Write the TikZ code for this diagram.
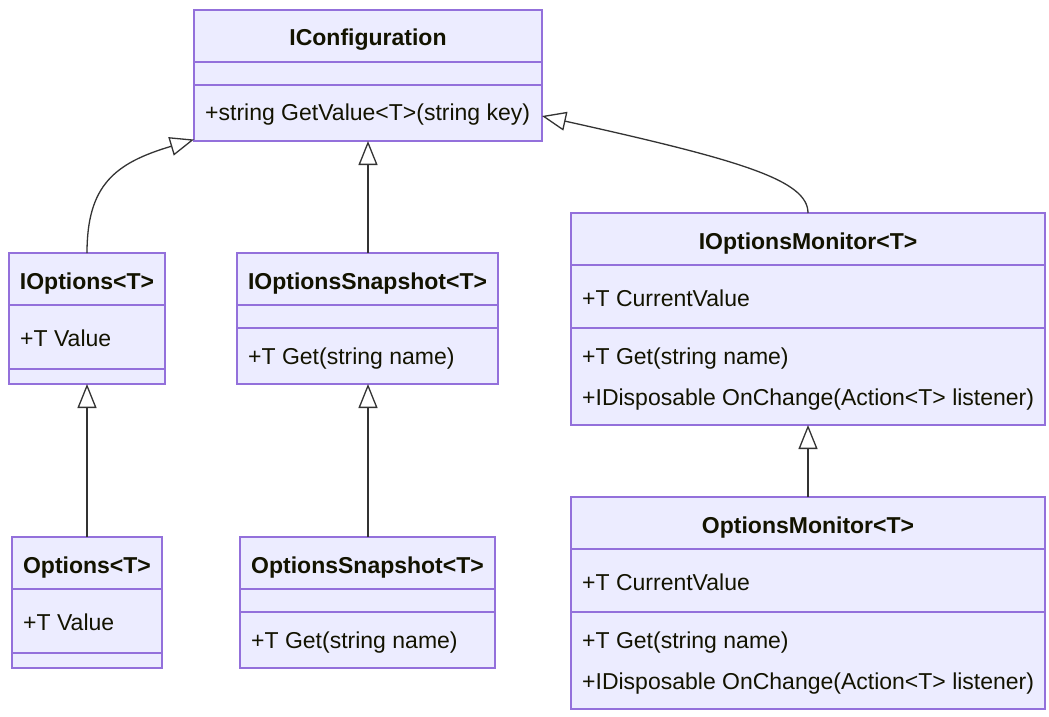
\documentclass[tikz,border=0pt]{standalone}
\usepackage{fontspec}
\setmainfont{Liberation Sans}
\usetikzlibrary{arrows.meta}
\definecolor{boxfill}{HTML}{ECECFF}
\definecolor{boxline}{HTML}{9370DB}
\definecolor{edgecol}{HTML}{333333}
\definecolor{txtcol}{HTML}{131300}
\newcommand{\umlbox}[7]{%
  \pgfmathsetmacro\umlbw{#4-#2}\pgfmathsetmacro\umlbh{#5-#3}%
  \node[classbox, minimum width=\umlbw pt, minimum height=\umlbh pt] (#1) at ({(#2+#4)/2},{(#3+#5)/2}) {};
  \draw[divline] (#2,#6) -- (#4,#6);
  \draw[divline] (#2,#7) -- (#4,#7);
}
\begin{document}
\begin{tikzpicture}[x=1pt,y=-1pt,
  classbox/.style={draw=boxline, fill=boxfill, line width=1.3pt, inner sep=0pt, outer sep=0pt, rectangle},
  divline/.style={draw=boxline, line width=1.3pt},
  titletext/.style={inner sep=0pt, text=txtcol, font=\fontsize{23}{27}\selectfont\bfseries, anchor=base},
  membertext/.style={inner sep=0pt, text=txtcol, font=\fontsize{23}{27}\selectfont, anchor=base west},
  inherit/.style={draw=edgecol, line width=1.3pt, -{Triangle[open, length=24pt, width=19pt]}}
]
\fill[white] (0,0) rectangle (1049,716);
\useasboundingbox (0,0) rectangle (1049,716);

% boxes
\umlbox{iconf}{194}{10}{542}{141}{62}{85}
\umlbox{iopt}{9}{253}{165}{384}{305}{369}
\umlbox{iopts}{237}{253}{498}{384}{305}{328}
\umlbox{iopm}{571}{213}{1045}{425}{265}{328}
\umlbox{opt}{12}{537}{162}{668}{589}{653}
\umlbox{ops}{240}{537}{495}{668}{589}{612}
\umlbox{opm}{571}{497}{1045}{709}{549}{612}

% texts
\node[titletext] (iconf-t) at (368,45) {IConfiguration};
\node[membertext] (iconf-m1) at (205,120) {+string GetValue<T>(string key)};

\node[titletext] (iopt-t) at (87,289) {IOptions<T>};
\node[membertext] (iopt-a1) at (20,346) {+T Value};

\node[titletext] (iopts-t) at (367.5,289) {IOptionsSnapshot<T>};
\node[membertext] (iopts-m1) at (248,364) {+T Get(string name)};

\node[titletext] (iopm-t) at (808,249) {IOptionsMonitor<T>};
\node[membertext] (iopm-a1) at (582,306) {+T CurrentValue};
\node[membertext] (iopm-m1) at (582,364) {+T Get(string name)};
\node[membertext] (iopm-m2) at (582,405) {+IDisposable OnChange(Action<T> listener)};

\node[titletext] (opt-t) at (87,573) {Options<T>};
\node[membertext] (opt-a1) at (23,630) {+T Value};

\node[titletext] (ops-t) at (367.5,573) {OptionsSnapshot<T>};
\node[membertext] (ops-m1) at (251,648) {+T Get(string name)};

\node[titletext] (opm-t) at (808,533) {OptionsMonitor<T>};
\node[membertext] (opm-a1) at (582,590) {+T CurrentValue};
\node[membertext] (opm-m1) at (582,648) {+T Get(string name)};
\node[membertext] (opm-m2) at (582,689) {+IDisposable OnChange(Action<T> listener)};

% connectors
\coordinate (iconf-r) at (542,116);
\draw[inherit] (iopt.north) .. controls (87,185) and (115,163) .. ([yshift=1.5pt]iconf.south west);
\draw[inherit] ([xshift=0.5pt]iopts.north) -- (iconf.south);
\draw[inherit] (iopm.north) .. controls (808,180) and (740,160) .. (iconf-r);
\draw[inherit] (opt.north) -- (iopt.south);
\draw[inherit] ([xshift=0.5pt]ops.north) -- ([xshift=0.5pt]iopts.south);
\draw[inherit] (opm.north) -- (iopm.south);
\end{tikzpicture}
\end{document}
